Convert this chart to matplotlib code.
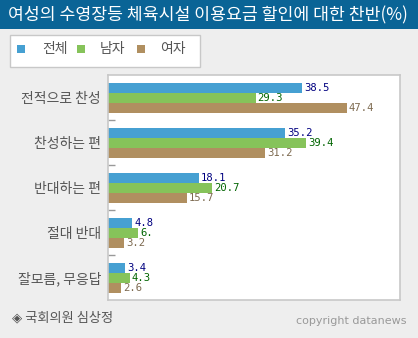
import matplotlib
matplotlib.use("Agg")
import matplotlib.pyplot as plt
from matplotlib.patches import Rectangle

plt.rcParams['font.family'] = ['Noto Sans CJK KR', 'DejaVu Sans']

# data
categories = ["전적으로 찬성", "찬성하는 편", "반대하는 편", "절대 반대", "잘모름, 무응답"]
series_names = ["전체", "남자", "여자"]
total = [38.5, 35.2, 18.1, 4.8, 3.4]
male = [29.3, 39.4, 20.7, 6.0, 4.3]
female = [47.4, 31.2, 15.7, 3.2, 2.6]
total_labels = ["38.5", "35.2", "18.1", "4.8", "3.4"]
male_labels = ["29.3", "39.4", "20.7", "6.", "4.3"]
female_labels = ["47.4", "31.2", "15.7", "3.2", "2.6"]

bar_colors = ["#46a0d2", "#86c35a", "#b08f60"]
text_colors = ["#000080", "#006400", "#7d6a50"]

W, H = 418, 338
fig = plt.figure(figsize=(W / 100, H / 100), dpi=100)
fig.patch.set_facecolor("#eeeeee")

# title bar
fig.add_artist(Rectangle((0, 1 - 29 / H), 1, 29 / H, transform=fig.transFigure,
                         facecolor="#0a6496", edgecolor="none"))
fig.text(8 / W, 1 - 15 / H, "여성의 수영장등 체육시설 이용요금 할인에 대한 찬반(%)",
         color="white", fontsize=12.4, fontweight="medium", va="center", ha="left")

# legend (manual box)
fig.add_artist(Rectangle((10 / W, 1 - 67 / H), 190 / W, 32 / H, transform=fig.transFigure,
                         facecolor="white", edgecolor="#c8c8c8", lw=1))
sq_x = [17, 77, 137]
lab_x = [42, 100, 160]
for i in range(3):
    fig.add_artist(Rectangle((sq_x[i] / W, 1 - 53 / H), 8 / W, 8 / H, transform=fig.transFigure,
                             facecolor=bar_colors[i], edgecolor="none"))
    fig.text(lab_x[i] / W, 1 - 49 / H, series_names[i], color="#555555",
             fontsize=10, va="center", ha="left")

# plot area
ax = fig.add_axes([108 / W, (H - 300) / H, 292 / W, 225 / H])
ax.set_facecolor("white")
bh = 10 / 45
ys = list(range(len(categories)))
for k, (vals, labs) in enumerate([(total, total_labels), (male, male_labels), (female, female_labels)]):
    pos = [y + (k - 1) * bh for y in ys]
    ax.barh(pos, vals, height=bh, color=bar_colors[k], edgecolor="none")
    for p, v, t in zip(pos, vals, labs):
        ax.text(v + 0.4, p + 0.02, t, color=text_colors[k], fontsize=7.6,
                family="DejaVu Sans Mono", va="center", ha="left")

ax.set_xlim(0, 58)
ax.set_ylim(len(categories) - 0.5, -0.5)
ax.set_xticks([])
ax.set_yticks(ys)
ax.set_yticklabels(categories, fontsize=10, color="#555555")
ax.tick_params(axis="y", which="major", length=0, pad=5)
ax.set_yticks([0.5, 1.5, 2.5, 3.5], minor=True)
ax.tick_params(axis="y", which="minor", length=5, direction="in", color="#999999", width=1)
for s in ax.spines.values():
    s.set_color("#c8c8c8")
    s.set_linewidth(1.2)

# footer
fig.text(12 / W, 1 - 318 / H, "◈ 국회의원 심상정", color="#555555", fontsize=9.5,
         va="center", ha="left", family=["Noto Sans CJK KR", "DejaVu Sans"])
fig.text(407 / W, 1 - 321 / H, "copyright datanews", color="#999999", fontsize=8,
         va="center", ha="right", family="DejaVu Sans")

fig.savefig("out.png", dpi=100, facecolor=fig.get_facecolor())
